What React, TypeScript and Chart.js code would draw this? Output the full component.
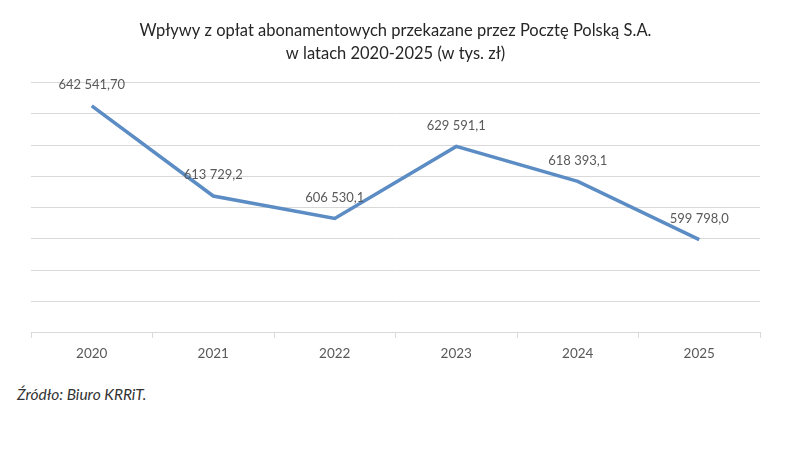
import Chart from 'chart.js/auto';
import { useEffect, useRef } from 'react';

const years = ['2020', '2021', '2022', '2023', '2024', '2025'];
const revenue = [642541.7, 613729.2, 606530.1, 629591.1, 618393.1, 599798.0];
const revenueLabels = ['642 541,70', '613 729,2', '606 530,1', '629 591,1', '618 393,1', '599 798,0'];
const titleLines = [
  'Wpływy z opłat abonamentowych przekazane przez Pocztę Polską S.A.',
  'w latach 2020-2025 (w tys. zł)'
];

const FONT = 'Lato, "Open Sans", sans-serif';

// draws the value above each point
const valueLabels = {
  id: 'valueLabels',
  afterDatasetsDraw(chart: any) {
    const ctx = chart.ctx;
    const meta = chart.getDatasetMeta(0);
    ctx.save();
    ctx.font = `13px ${FONT}`;
    ctx.fillStyle = '#595959';
    ctx.textAlign = 'center';
    ctx.textBaseline = 'middle';
    meta.data.forEach((pt: any, i: number) => {
      ctx.fillText(revenueLabels[i], pt.x, pt.y - 21);
    });
    ctx.restore();
  }
};

const App: React.FC = () => {
  const canvasRef = useRef<HTMLCanvasElement>(null);
  const chartRef = useRef<Chart | null>(null);

  useEffect(() => {
    const canvas = canvasRef.current;
    if (!canvas) return;
    const ctx = canvas.getContext('2d');
    if (!ctx) return;

    if (chartRef.current) chartRef.current.destroy();

    chartRef.current = new Chart(ctx, {
      type: 'line',
      data: {
        labels: years,
        datasets: [
          {
            label: 'Wpływy',
            data: revenue,
            borderColor: '#5b8cc4',
            borderWidth: 3.5,
            pointRadius: 0,
            tension: 0,
            fill: false
          }
        ]
      },
      options: {
        animation: false,
        responsive: false,
        layout: { padding: { left: 31, right: 25, bottom: 5, top: 0 } },
        plugins: {
          legend: { display: false },
          tooltip: { enabled: false },
          title: {
            display: true,
            text: titleLines,
            color: '#262626',
            font: { family: FONT, size: 16.5, weight: 'normal', lineHeight: 1.35 },
            padding: { top: 20, bottom: 18 }
          }
        },
        scales: {
          x: {
            offset: true,
            grid: {
              offset: true,
              drawOnChartArea: false,
              drawTicks: true,
              tickLength: 5,
              color: '#d9d9d9'
            },
            border: { color: '#d9d9d9' },
            ticks: {
              color: '#595959',
              font: { family: FONT, size: 13.5 },
              padding: 8
            }
          },
          y: {
            min: 570000,
            max: 650000,
            ticks: { display: false, stepSize: 10000 },
            border: { display: false },
            grid: { color: '#d9d9d9', drawTicks: false },
            afterFit: (scale: any) => {
              scale.width = 0;
            }
          }
        }
      },
      plugins: [valueLabels]
    });

    return () => {
      if (chartRef.current) {
        chartRef.current.destroy();
        chartRef.current = null;
      }
    };
  }, []);

  return (
    <div
      style={{
        position: 'fixed',
        left: 0,
        top: 0,
        width: 785,
        height: 469,
        background: '#ffffff'
      }}
    >
      <canvas ref={canvasRef} width={785} height={375} style={{ display: 'block' }}></canvas>
      <div
        style={{
          position: 'absolute',
          left: 17,
          top: 385,
          fontFamily: FONT,
          fontStyle: 'italic',
          fontSize: 15.5,
          color: '#333333'
        }}
      >
        Źródło: Biuro KRRiT.
      </div>
    </div>
  );
};

export default App;
